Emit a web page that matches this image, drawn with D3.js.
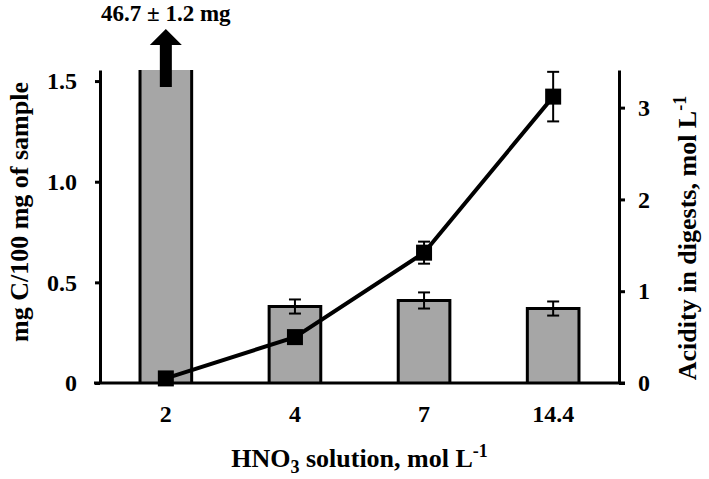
<!DOCTYPE html>
<html>
<head>
<meta charset="utf-8">
<script src="https://cdn.jsdelivr.net/npm/d3@7"></script>
<style>
  body { margin: 0; background: #fff; }
  text { font-family: "Liberation Serif", "Times New Roman", serif; font-weight: bold; fill: #000; }
</style>
</head>
<body>
<div id="chart"></div>
<script>
// HNO3 concentration categories
const categories = ["2", "4", "7", "14.4"];
// residual carbon, mg C / 100 mg sample (bars, left axis)
const carbon = [46.7, 0.38, 0.41, 0.37];
const carbonErr = [1.2, 0.035, 0.04, 0.035];
// acidity in digests, mol/L (line, right axis)
const acidity = [0.05, 0.5, 1.42, 3.12];
const acidityErr = [0.02, 0.03, 0.12, 0.27];
const leftTicks = [0, 0.5, 1.0, 1.5];
const rightTicks = [0, 1, 2, 3];

const width = 709, height = 479;
const margin = {top: 70, right: 90, bottom: 96, left: 100};

const svg = d3.select("#chart").append("svg")
    .attr("width", width)
    .attr("height", height);

const x = d3.scaleBand()
    .domain(categories)
    .range([margin.left, width - margin.right])
    .paddingInner(0.6)
    .paddingOuter(0.31);

const yL = d3.scaleLinear().domain([0, 1.555]).range([height - margin.bottom, margin.top]);
const yR = d3.scaleLinear().domain([0, 3.41]).range([height - margin.bottom, margin.top]);

const base = yL(0);
const maxL = yL.domain()[1];

// bars
const bars = categories.map((c, i) => ({c, v: carbon[i], e: carbonErr[i]}));

svg.append("g")
  .selectAll("rect")
  .data(bars)
  .join("rect")
    .attr("x", d => x(d.c))
    .attr("width", x.bandwidth())
    .attr("y", d => yL(Math.min(d.v, maxL)))
    .attr("height", d => base - yL(Math.min(d.v, maxL)))
    .attr("fill", "#a6a6a6");

// bar outlines (clipped bar has no top edge)
svg.append("g")
    .attr("fill", "none")
    .attr("stroke", "#000")
    .attr("stroke-width", 3)
  .selectAll("path")
  .data(bars)
  .join("path")
    .attr("d", d => {
      const x0 = x(d.c), x1 = x(d.c) + x.bandwidth();
      if (d.v > maxL) {
        const t = yL(maxL);
        return `M${x0},${base}V${t}M${x1},${t}V${base}`;
      }
      const t = yL(d.v);
      return `M${x0},${base}V${t}H${x1}V${base}`;
    });

// bar error bars
const errG = svg.append("g").attr("stroke", "#000").attr("stroke-width", 2);
bars.filter(d => d.v <= maxL).forEach(d => {
  const cx = x(d.c) + x.bandwidth() / 2;
  const lo = yL(d.v - d.e), hi = yL(d.v + d.e);
  errG.append("line").attr("x1", cx).attr("x2", cx).attr("y1", lo).attr("y2", hi);
  errG.append("line").attr("x1", cx - 6).attr("x2", cx + 6).attr("y1", lo).attr("y2", lo);
  errG.append("line").attr("x1", cx - 6).attr("x2", cx + 6).attr("y1", hi).attr("y2", hi);
});

// arrow + label for the off-scale bar
const bigIdx = carbon.findIndex(v => v > maxL);
if (bigIdx >= 0) {
  const cx = x(categories[bigIdx]) + x.bandwidth() / 2;
  const t = yL(maxL);
  svg.append("path")
      .attr("d", `M${cx - 6},${t + 17}V${t - 25}H${cx - 16}L${cx},${t - 41}L${cx + 16},${t - 25}H${cx + 6}V${t + 17}Z`)
      .attr("fill", "#000");
  svg.append("text")
      .attr("x", cx)
      .attr("y", t - 49)
      .attr("text-anchor", "middle")
      .style("font-size", "23px")
      .text(`${carbon[bigIdx]} ± ${carbonErr[bigIdx]} mg`);
}

// acidity line
const pts = categories.map((c, i) => ({c, v: acidity[i], e: acidityErr[i]}));
const cxOf = d => x(d.c) + x.bandwidth() / 2;

svg.append("path")
    .datum(pts)
    .attr("fill", "none")
    .attr("stroke", "#000")
    .attr("stroke-width", 4)
    .attr("d", d3.line().x(cxOf).y(d => yR(d.v)));

const lineErr = svg.append("g").attr("stroke", "#000").attr("stroke-width", 2);
pts.forEach(d => {
  const cx = cxOf(d);
  const lo = yR(d.v - d.e), hi = yR(d.v + d.e);
  lineErr.append("line").attr("x1", cx).attr("x2", cx).attr("y1", lo).attr("y2", hi);
  lineErr.append("line").attr("x1", cx - 6).attr("x2", cx + 6).attr("y1", lo).attr("y2", lo);
  lineErr.append("line").attr("x1", cx - 6).attr("x2", cx + 6).attr("y1", hi).attr("y2", hi);
});

svg.append("g")
  .selectAll("rect")
  .data(pts)
  .join("rect")
    .attr("x", d => cxOf(d) - 8)
    .attr("y", d => yR(d.v) - 8)
    .attr("width", 16)
    .attr("height", 16)
    .attr("fill", "#000");

// axes
const axisStyle = g => {
  g.selectAll(".domain").attr("stroke-width", 3);
  g.selectAll(".tick line").attr("stroke-width", 3);
  g.selectAll("text").style("font-size", "24px").attr("font-family", null);
};

svg.append("g")
    .attr("transform", `translate(${margin.left},0)`)
    .call(d3.axisLeft(yL).tickValues(leftTicks).tickSize(5).tickSizeOuter(0).tickPadding(18)
      .tickFormat(d => d === 0 ? "0" : d3.format(".1f")(d)))
    .call(axisStyle);

svg.append("g")
    .attr("transform", `translate(${width - margin.right},0)`)
    .call(d3.axisRight(yR).tickValues(rightTicks).tickSize(6).tickSizeOuter(0).tickPadding(13)
      .tickFormat(d3.format("d")))
    .call(axisStyle);

// baseline, a bit wider than the plot
svg.append("line")
    .attr("x1", margin.left - 6)
    .attr("x2", width - margin.right + 6)
    .attr("y1", base)
    .attr("y2", base)
    .attr("stroke", "#000")
    .attr("stroke-width", 3);

svg.append("g")
    .attr("transform", `translate(0,${base})`)
    .call(d3.axisBottom(x).tickSize(0).tickPadding(22))
    .call(g => g.select(".domain").remove())
    .call(g => g.selectAll("text").style("font-size", "24px").attr("font-family", null));

// axis titles
const xt = svg.append("text")
    .attr("x", (margin.left + width - margin.right) / 2)
    .attr("y", 467)
    .attr("text-anchor", "middle")
    .style("font-size", "26px");
xt.append("tspan").text("HNO");
xt.append("tspan").attr("dy", 6).style("font-size", "18px").text("3");
xt.append("tspan").attr("dy", -6).text(" solution, mol L");
xt.append("tspan").attr("dy", -10).style("font-size", "18px").text("-1");

svg.append("text")
    .attr("transform", "translate(28,212) rotate(-90)")
    .attr("text-anchor", "middle")
    .style("font-size", "26px")
    .text("mg C/100 mg of sample");

const rt = svg.append("text")
    .attr("transform", "translate(696,238) rotate(-90)")
    .attr("text-anchor", "middle")
    .style("font-size", "26px");
rt.append("tspan").text("Acidity in digests, mol L");
rt.append("tspan").attr("dy", -10).style("font-size", "18px").text("-1");
</script>
</body>
</html>
